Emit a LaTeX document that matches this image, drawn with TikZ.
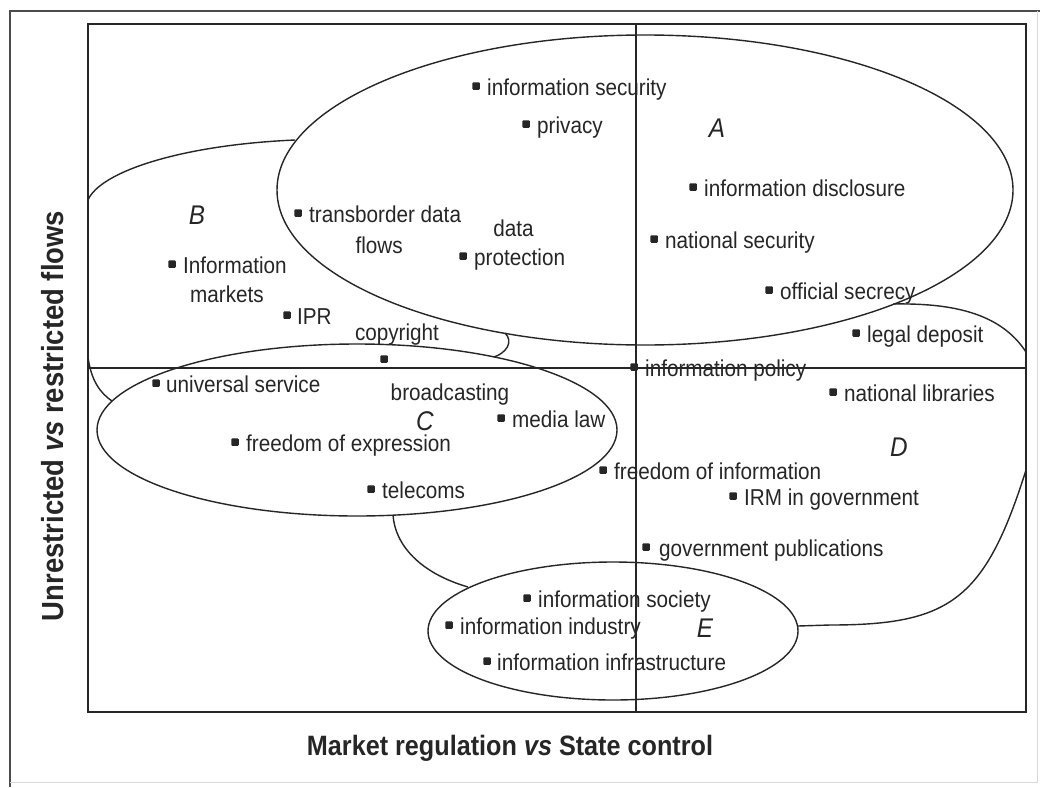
\documentclass[tikz,border=0pt]{standalone}
\usepackage{fontspec}
\setmainfont{Liberation Sans}[FakeStretch=0.9]
\usetikzlibrary{shapes.geometric}
\begin{document}
\begin{tikzpicture}[x=1pt,y=-1pt,
  ln/.style={line width=1.4pt, draw=black!85},
  ell/.style={ln, ellipse, inner sep=0pt},
  dot/.style={fill=black!85, rectangle, rounded corners=1pt, minimum size=7.5pt, inner sep=0pt},
  lbl/.style={font=\fontsize{23}{26}\selectfont, inner sep=0pt, anchor=base west, text=black!85},
  cl/.style={lbl, anchor=base},
  big/.style={font=\fontsize{27}{30}\selectfont\itshape, inner sep=0pt, text=black!85},
  axl/.style={font=\fontsize{28}{30}\selectfont\bfseries, inner sep=0pt, text=black!85}]
\useasboundingbox (0,0) rectangle (1040,787);
\fill[white] (0,0) rectangle (1040,787);
% outer frame
\coordinate (o1) at (10,11); \coordinate (o2) at (1040,11); \coordinate (o3) at (10,787);
\coordinate (o4) at (10,782); \coordinate (o5) at (1037,782); \coordinate (o6) at (1037,11);
\draw[line width=1.2pt, black!70] (o2) -- (o1) -- (o3);
\draw[line width=0.8pt, black!15] (o4) -- (o5) -- (o6);
% inner box and axes
\node[draw=black!85, line width=1.6pt, minimum width=938pt, minimum height=688pt, inner sep=0pt] (box) at (557,368) {};
\coordinate (vt) at (636,24); \coordinate (vb) at (636,712);
\draw[ln, line width=1.3pt] (vt) -- (vb);
\draw[ln, line width=1.3pt] (box.west) -- (box.east);
% ellipses
\node[ell, minimum width=736pt, minimum height=310pt] (A) at (645,190) {};
\node[ell, minimum width=520pt, minimum height=172pt] (C) at (357,430) {};
\node[ell, minimum width=370pt, minimum height=138pt] (E) at (613,631) {};
% B boundary
\coordinate (b1) at (88,200); \coordinate (b2) at (295,140);
\draw[ln] (b1) .. controls (100,172) and (180,145) .. (b2);
\coordinate (b3) at (505,333); \coordinate (b4) at (494,357);
\draw[ln] (b3) .. controls (514,342) and (506,353) .. (b4);
\coordinate (b5) at (88,357); \coordinate (b6) at (112,401);
\draw[ln] (b5) .. controls (91,380) and (100,393) .. (b6);
% D boundary
\coordinate (d1) at (893,304); \coordinate (d2) at (1026,352);
\draw[ln] (d1) .. controls (950,303) and (1000,312) .. (d2);
\coordinate (d3) at (798,626); \coordinate (d4) at (830,625); \coordinate (d5) at (1026,470);
\draw[ln] (d3) -- (d4) .. controls (950,625) and (985,600) .. (d5);
\coordinate (d6) at (393,515); \coordinate (d7) at (468,587);
\draw[ln] (d6) .. controls (395,545) and (420,573) .. (d7);
% region letters
\node[big] (LA) at (717,128) {A};
\node[big] (LB) at (197,215) {B};
\node[big] (LC) at (425,421) {C};
\node[big] (LD) at (899,447) {D};
\node[big] (LE) at (705,628) {E};
% items
\tikzset{tx/.style={xshift=7pt, yshift=-9.5pt}}
\node[dot] (p1) at (476,86) {};  \node[lbl] (t1) at ([tx]p1.east) {information security};
\node[dot] (p2) at (526,124) {}; \node[lbl] (t2) at ([tx]p2.east) {privacy};
\node[dot] (p3) at (693,187) {}; \node[lbl] (t3) at ([tx]p3.east) {information disclosure};
\node[dot] (p4) at (654,239) {}; \node[lbl] (t4) at ([tx]p4.east) {national security};
\node[dot] (p5) at (769,290) {}; \node[lbl] (t5) at ([tx]p5.east) {official secrecy};
\node[dot] (p6) at (856,333) {}; \node[lbl] (t6) at ([tx]p6.east) {legal deposit};
\node[dot] (p7) at (634,367) {}; \node[lbl] (t7) at ([tx]p7.east) {information policy};
\node[dot] (p8) at (833,392) {}; \node[lbl] (t8) at ([tx]p8.east) {national libraries};
\node[dot] (p9) at (298,213) {}; \node[lbl] (t9) at ([tx]p9.east) {transborder data};
\node[cl] (t9b) at ([xshift=-6pt, yshift=-31pt]t9.base) {flows};
\node[dot] (p10) at (463,256) {}; \node[lbl] (t10) at ([tx]p10.east) {protection};
\node[cl] (t10a) at ([xshift=-6pt, yshift=29pt]t10.base) {data};
\node[dot] (p11) at (172,264) {}; \node[lbl] (t11) at ([tx]p11.east) {Information};
\node[lbl] (t11b) at ([xshift=7pt, yshift=-29pt]t11.base west) {markets};
\node[dot] (p12) at (287,315) {}; \node[lbl] (t12) at ([tx, xshift=-1pt]p12.east) {IPR};
\node[dot] (p13) at (384,359) {}; \node[cl] (t13) at ([xshift=13pt, yshift=19pt]p13.center) {copyright};
\node[dot] (p14) at (156,383) {}; \node[lbl] (t14) at ([tx, xshift=-1pt]p14.east) {universal service};
\node[cl] (t15) at (450,400) {broadcasting};
\node[dot] (p16) at (501,418) {}; \node[lbl] (t16) at ([tx]p16.east) {media law};
\node[dot] (p17) at (235,442) {}; \node[lbl] (t17) at ([tx]p17.east) {freedom of expression};
\node[dot] (p18) at (371,489) {}; \node[lbl] (t18) at ([tx]p18.east) {telecoms};
\node[dot] (p19) at (603,470) {}; \node[lbl] (t19) at ([tx]p19.east) {freedom of information};
\node[dot] (p20) at (733,496) {}; \node[lbl] (t20) at ([tx]p20.east) {IRM in government};
\node[dot] (p21) at (646,547) {}; \node[lbl] (t21) at ([tx, xshift=2pt]p21.east) {government publications};
\node[dot] (p22) at (527,598) {}; \node[lbl] (t22) at ([tx]p22.east) {information society};
\node[dot] (p23) at (449,625) {}; \node[lbl] (t23) at ([tx]p23.east) {information industry};
\node[dot] (p24) at (487,661) {}; \node[lbl] (t24) at ([tx, xshift=-1pt]p24.east) {information infrastructure};
% axis labels
\node[axl] (xl) at (510,748) {Market regulation \textit{vs} State control};
\node[axl, font=\fontsize{30.5}{32}\selectfont\bfseries, rotate=90] (yl) at (53,416) {Unrestricted \textit{vs} restricted flows};
\end{tikzpicture}
\end{document}
